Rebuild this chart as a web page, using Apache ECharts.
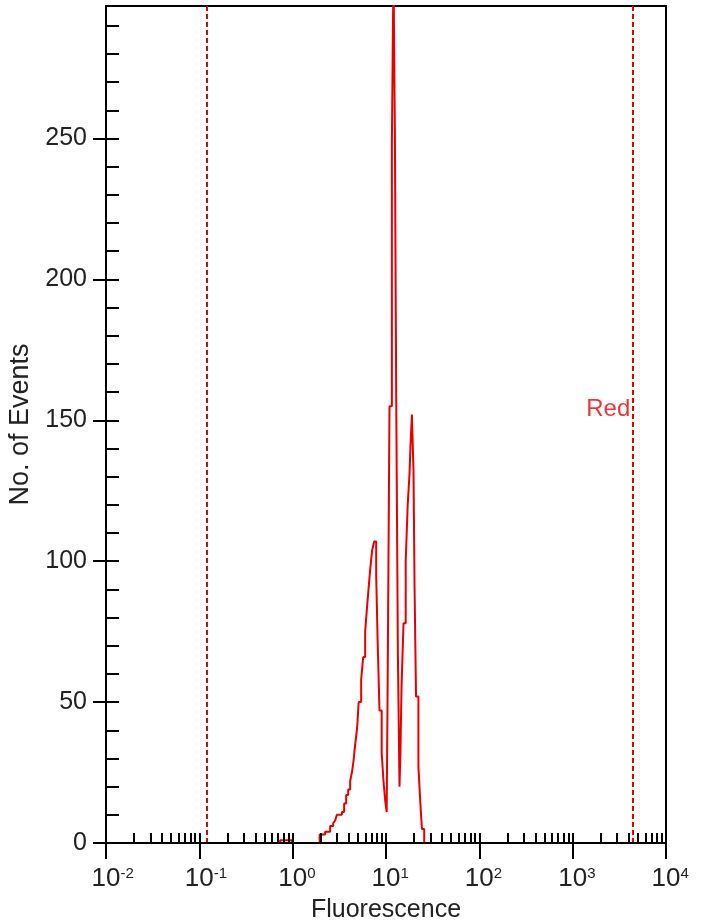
<!DOCTYPE html>
<html><head><meta charset="utf-8">
<script src="https://cdn.jsdelivr.net/npm/echarts@6/dist/echarts.min.js"></script>
<style>html,body{margin:0;padding:0;background:#fff}#c{width:701px;height:922px}</style>
</head><body><div id="c"></div>
<script>
// ---- data (step starts at each fluorescence value) ----
const fluorescence = [0.698, 0.734, 0.975, 1.946, 2.228, 2.521, 2.716, 2.853, 2.976, 3.366, 3.562, 3.743, 3.933, 4.132, 4.309, 4.483, 4.675, 4.911, 5.097, 5.420, 5.694, 5.983, 6.239, 6.492, 6.770, 7.111, 7.470, 7.848, 8.146, 8.516, 8.991, 9.399, 9.802, 10.17, 10.43, 10.90, 11.56, 12.03, 12.45, 12.86, 13.41, 13.95, 14.30, 14.66, 15.40, 16.26, 17.08, 17.86, 18.30, 18.95, 19.71, 20.21, 20.97, 22.25, 23.26, 24.25, 25.67];
const events = [0, 1, 0, 3, 4, 6, 7, 8, 10, 11, 14, 17, 19, 22, 25, 29, 35, 41, 50, 58, 66, 75, 83, 90, 97, 104, 107, 95, 71, 47, 32, 22, 15, 11, 59, 155, 249, 310, 252, 159, 67, 20, 33, 55, 78, 100, 120, 131, 141, 152, 132, 92, 52, 27, 15, 5, 0];
const gateMarkers = [0.117, 4350];
const gateLabel = 'Red';
const gateLabelAt = [4350, 154];
const xDecades = [0.01, 0.1, 1, 10, 100, 1000, 10000];
const yMajorTicks = [0, 50, 100, 150, 200, 250];
const yMin = 0, yMax = 297;
const xName = 'Fluorescence';
const yName = 'No. of Events';

// ---- derived tick sets ----
const xMinorTicks = [];
for (let i = 0; i < xDecades.length - 1; i++) {
  for (let k = 1; k <= 9; k++) xMinorTicks.push(+(xDecades[i] * k).toPrecision(6));
}
xMinorTicks.push(xDecades[xDecades.length - 1]);
const yMinorTicks = [];
for (let v = yMin; v <= yMax; v += 10) yMinorTicks.push(v);

const RED = '#e80000';
const FONT = 'Liberation Sans, Arial, sans-serif';
const black = {color: '#000', width: 2};

const chart = echarts.init(document.getElementById('c'), null, {renderer: 'canvas'});
const seriesData = fluorescence.map((f, i) => [f, events[i]]);

function expOf(v) { return Math.round(Math.log10(v)); }

chart.setOption({
  animation: false,
  backgroundColor: '#fff',
  grid: {left: 106, right: 35, top: 6, bottom: 79, containLabel: false, outerBoundsMode: 'none',
         show: true, borderColor: '#000', borderWidth: 2, backgroundColor: 'transparent'},
  xAxis: [
    {type: 'log', logBase: 10, min: 0.01, max: 10000, position: 'bottom', z: 5,
     axisLine: {lineStyle: black},
     axisTick: {show: true, inside: true, length: 10, lineStyle: black, customValues: xMinorTicks},
     axisLabel: {show: false}, splitLine: {show: false}, minorTick: {show: false}},
    {type: 'log', logBase: 10, min: 0.01, max: 10000, position: 'bottom', z: 5,
     axisLine: {lineStyle: black},
     axisTick: {show: true, inside: false, length: 16, lineStyle: black, customValues: xDecades},
     axisLabel: {show: true, customValues: xDecades, margin: 23,
       formatter: function (v) { const e = String(expOf(v)); return '{h|' + e + '}{b|10}{s|' + e + '}'; },
       rich: {
         b: {fontSize: 26, fontFamily: FONT, color: '#222', lineHeight: 26, verticalAlign: 'top'},
         s: {fontSize: 15, fontFamily: FONT, color: '#222', lineHeight: 15, verticalAlign: 'top'},
         h: {fontSize: 15, fontFamily: FONT, color: 'rgba(0,0,0,0)', lineHeight: 15, verticalAlign: 'top'}
       }},
     splitLine: {show: false},
     name: xName, nameLocation: 'middle', nameGap: 55,
     nameTextStyle: {fontSize: 25, fontFamily: FONT, color: '#222'}}
  ],
  yAxis: [
    {type: 'value', min: yMin, max: yMax, position: 'left', z: 5,
     axisLine: {show: true, lineStyle: black},
     axisTick: {show: true, inside: true, length: 13, lineStyle: black, customValues: yMinorTicks},
     axisLabel: {show: false}, splitLine: {show: false}},
    {type: 'value', min: yMin, max: yMax, position: 'left', z: 5,
     axisLine: {show: true, lineStyle: black},
     axisTick: {show: true, inside: false, length: 13, lineStyle: black, customValues: yMajorTicks},
     axisLabel: {show: true, customValues: yMajorTicks, margin: 19, fontSize: 25, fontFamily: FONT, color: '#222'},
     splitLine: {show: false},
     name: yName, nameLocation: 'middle', nameGap: 67, nameRotate: 90,
     nameTextStyle: {fontSize: 27, fontFamily: FONT, color: '#222'}}
  ],
  series: [
    {type: 'line', step: 'end', xAxisIndex: 0, yAxisIndex: 0, data: seriesData,
     showSymbol: false, symbol: 'none', clip: true, z: 2,
     lineStyle: {color: RED, width: 2},
     markLine: {silent: true, symbol: ['none', 'none'], label: {show: false},
       lineStyle: {color: RED, width: 2, type: [5, 3]},
       data: gateMarkers.map(v => ({xAxis: v}))}},
    {type: 'scatter', xAxisIndex: 0, yAxisIndex: 0, data: [gateLabelAt], symbolSize: 0, silent: true,
     label: {show: true, position: 'left', distance: 2, formatter: gateLabel, color: RED, fontSize: 24, fontFamily: FONT}}
  ]
});
</script>
</body></html>
